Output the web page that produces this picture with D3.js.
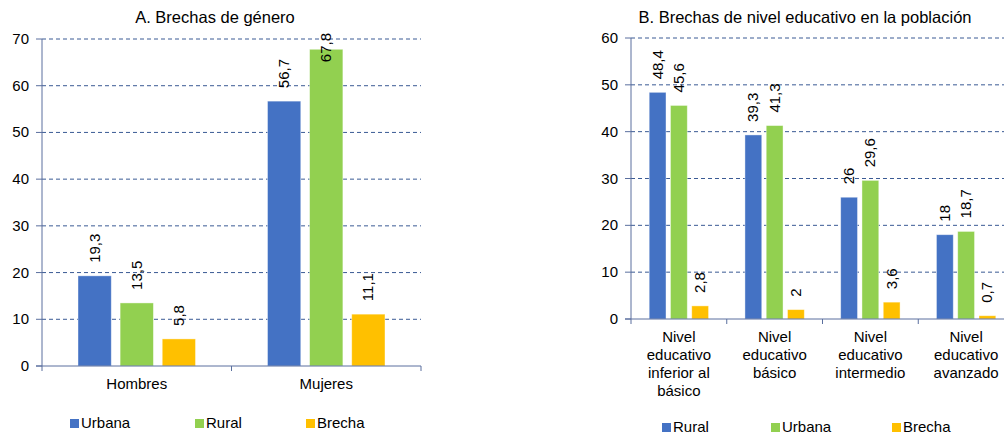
<!DOCTYPE html>
<html>
<head>
<meta charset="utf-8">
<script src="https://cdn.jsdelivr.net/npm/d3@7"></script>
<style>
  body { margin: 0; background: #fff; }
  svg { font-family: "Liberation Sans", Arial, sans-serif; }
</style>
</head>
<body>
<svg id="chart" width="1004" height="434"></svg>
<script>
// panel A - gender gaps
var catsA = ["Hombres", "Mujeres"];
var seriesA = ["Urbana", "Rural", "Brecha"];
var urbanaA = [19.3, 56.7];
var ruralA = [13.5, 67.8];
var brechaA = [5.8, 11.1];
var ticksA = [0, 10, 20, 30, 40, 50, 60, 70];

// panel B - education gaps
var catsB = [
  ["Nivel", "educativo", "inferior al", "básico"],
  ["Nivel", "educativo", "básico"],
  ["Nivel", "educativo", "intermedio"],
  ["Nivel", "educativo", "avanzado"]
];
var seriesB = ["Rural", "Urbana", "Brecha"];
var ruralB = [48.4, 39.3, 26, 18];
var urbanaB = [45.6, 41.3, 29.6, 18.7];
var brechaB = [2.8, 2, 3.6, 0.7];
var ticksB = [0, 10, 20, 30, 40, 50, 60];

var colors = ["#4472C4", "#92D050", "#FFC000"];
var svg = d3.select("#chart");

function fmt(v) { return String(v).replace(".", ","); }

function drawPanel(opt) {
  var g = svg.append("g");
  var y = d3.scaleLinear().domain([0, opt.max]).range([opt.bottom, opt.top]);
  var keys = opt.cats.map(function (d, i) { return i; });
  var x0 = d3.scaleBand().domain(keys).range([opt.left, opt.right])
    .paddingInner(0.38).paddingOuter(0.19);
  var x1 = d3.scaleBand().domain([0, 1, 2]).range([0, x0.bandwidth()]).paddingInner(0.21);

  // gridlines
  g.selectAll(".grid").data(opt.ticks.filter(function (t) { return t > 0; })).enter()
    .append("line")
    .attr("x1", opt.left).attr("x2", opt.right)
    .attr("y1", function (d) { return y(d); }).attr("y2", function (d) { return y(d); })
    .attr("stroke", "#3a5a94").attr("stroke-width", 1).attr("stroke-dasharray", "4,3");

  // bars
  var rows = [];
  opt.values.forEach(function (vals, s) {
    vals.forEach(function (v, i) { rows.push({ s: s, i: i, v: v }); });
  });
  g.selectAll(".bar").data(rows).enter().append("rect")
    .attr("x", function (d) { return x0(d.i) + x1(d.s); })
    .attr("y", function (d) { return y(d.v); })
    .attr("width", x1.bandwidth())
    .attr("height", function (d) { return opt.bottom - y(d.v); })
    .attr("fill", function (d) { return colors[d.s]; })
    .attr("stroke", "#ffffff").attr("stroke-opacity", 0.5).attr("stroke-width", 0.8);

  // value labels, rotated
  g.selectAll(".lbl").data(rows).enter().append("text")
    .attr("font-size", 15).attr("fill", "#000")
    .attr("text-anchor", "start")
    .text(function (d) { return fmt(d.v); })
    .each(function (d) {
      var len = this.getComputedTextLength();
      var cx = x0(d.i) + x1(d.s) + x1.bandwidth() / 2;
      var by = Math.max(y(d.v) - 13, opt.top + len - 6);
      d3.select(this).attr("transform", "translate(" + (cx + 5) + "," + by + ") rotate(-90)");
    });

  // y axis
  g.append("line").attr("x1", opt.left).attr("x2", opt.left)
    .attr("y1", opt.top).attr("y2", opt.bottom).attr("stroke", "#5a6f9e");
  g.selectAll(".yt").data(opt.ticks).enter().append("line")
    .attr("x1", opt.left - 6).attr("x2", opt.left)
    .attr("y1", function (d) { return y(d); }).attr("y2", function (d) { return y(d); })
    .attr("stroke", "#5a6f9e");
  g.selectAll(".yl").data(opt.ticks).enter().append("text")
    .attr("x", opt.left - 13).attr("y", function (d) { return y(d) + 5; })
    .attr("text-anchor", "end").attr("font-size", 15).attr("fill", "#000")
    .text(function (d) { return d; });

  // x axis
  g.append("line").attr("x1", opt.left - 6).attr("x2", opt.right)
    .attr("y1", opt.bottom).attr("y2", opt.bottom).attr("stroke", "#5a6f9e");
  var bounds = keys.map(function (k) { return opt.left + k * x0.step(); }).concat([opt.right]);
  g.selectAll(".xt").data(bounds).enter().append("line")
    .attr("x1", function (d) { return d; }).attr("x2", function (d) { return d; })
    .attr("y1", opt.bottom).attr("y2", opt.bottom + 5).attr("stroke", "#5a6f9e");

  g.selectAll(".xl").data(opt.cats).enter().append("text")
    .attr("text-anchor", "middle").attr("font-size", 15).attr("fill", "#000")
    .attr("x", function (d, i) { return x0(i) + x0.bandwidth() / 2; })
    .attr("y", opt.bottom + 23)
    .each(function (d) {
      var lines = Array.isArray(d) ? d : [d];
      var t = d3.select(this);
      lines.forEach(function (ln, j) {
        t.append("tspan").attr("x", t.attr("x")).attr("dy", j === 0 ? 0 : 18).text(ln);
      });
    });

  // title
  g.append("text").attr("x", opt.titleX).attr("y", 23)
    .attr("text-anchor", "middle").attr("font-size", 16.5).attr("fill", "#000")
    .text(opt.title);

  // legend
  var lg = g.selectAll(".lg").data(opt.series).enter().append("g")
    .attr("transform", function (d, i) { return "translate(" + opt.legendX[i] + "," + opt.legendY + ")"; });
  lg.append("rect").attr("x", 0).attr("y", -9).attr("width", 9).attr("height", 9)
    .attr("fill", function (d, i) { return colors[i]; });
  lg.append("text").attr("x", 11).attr("y", 0).attr("font-size", 15).attr("fill", "#000")
    .text(function (d) { return d; });
}

drawPanel({
  cats: catsA, series: seriesA, values: [urbanaA, ruralA, brechaA], ticks: ticksA,
  max: 70, left: 42, right: 421, top: 39, bottom: 366,
  title: "A. Brechas de género", titleX: 215,
  legendX: [70, 195, 306], legendY: 428
});

drawPanel({
  cats: catsB, series: seriesB, values: [ruralB, urbanaB, brechaB], ticks: ticksB,
  max: 60, left: 631, right: 1014, top: 38, bottom: 319,
  title: "B. Brechas de nivel educativo en la población", titleX: 805,
  legendX: [662, 771, 892], legendY: 432
});
</script>
</body>
</html>
